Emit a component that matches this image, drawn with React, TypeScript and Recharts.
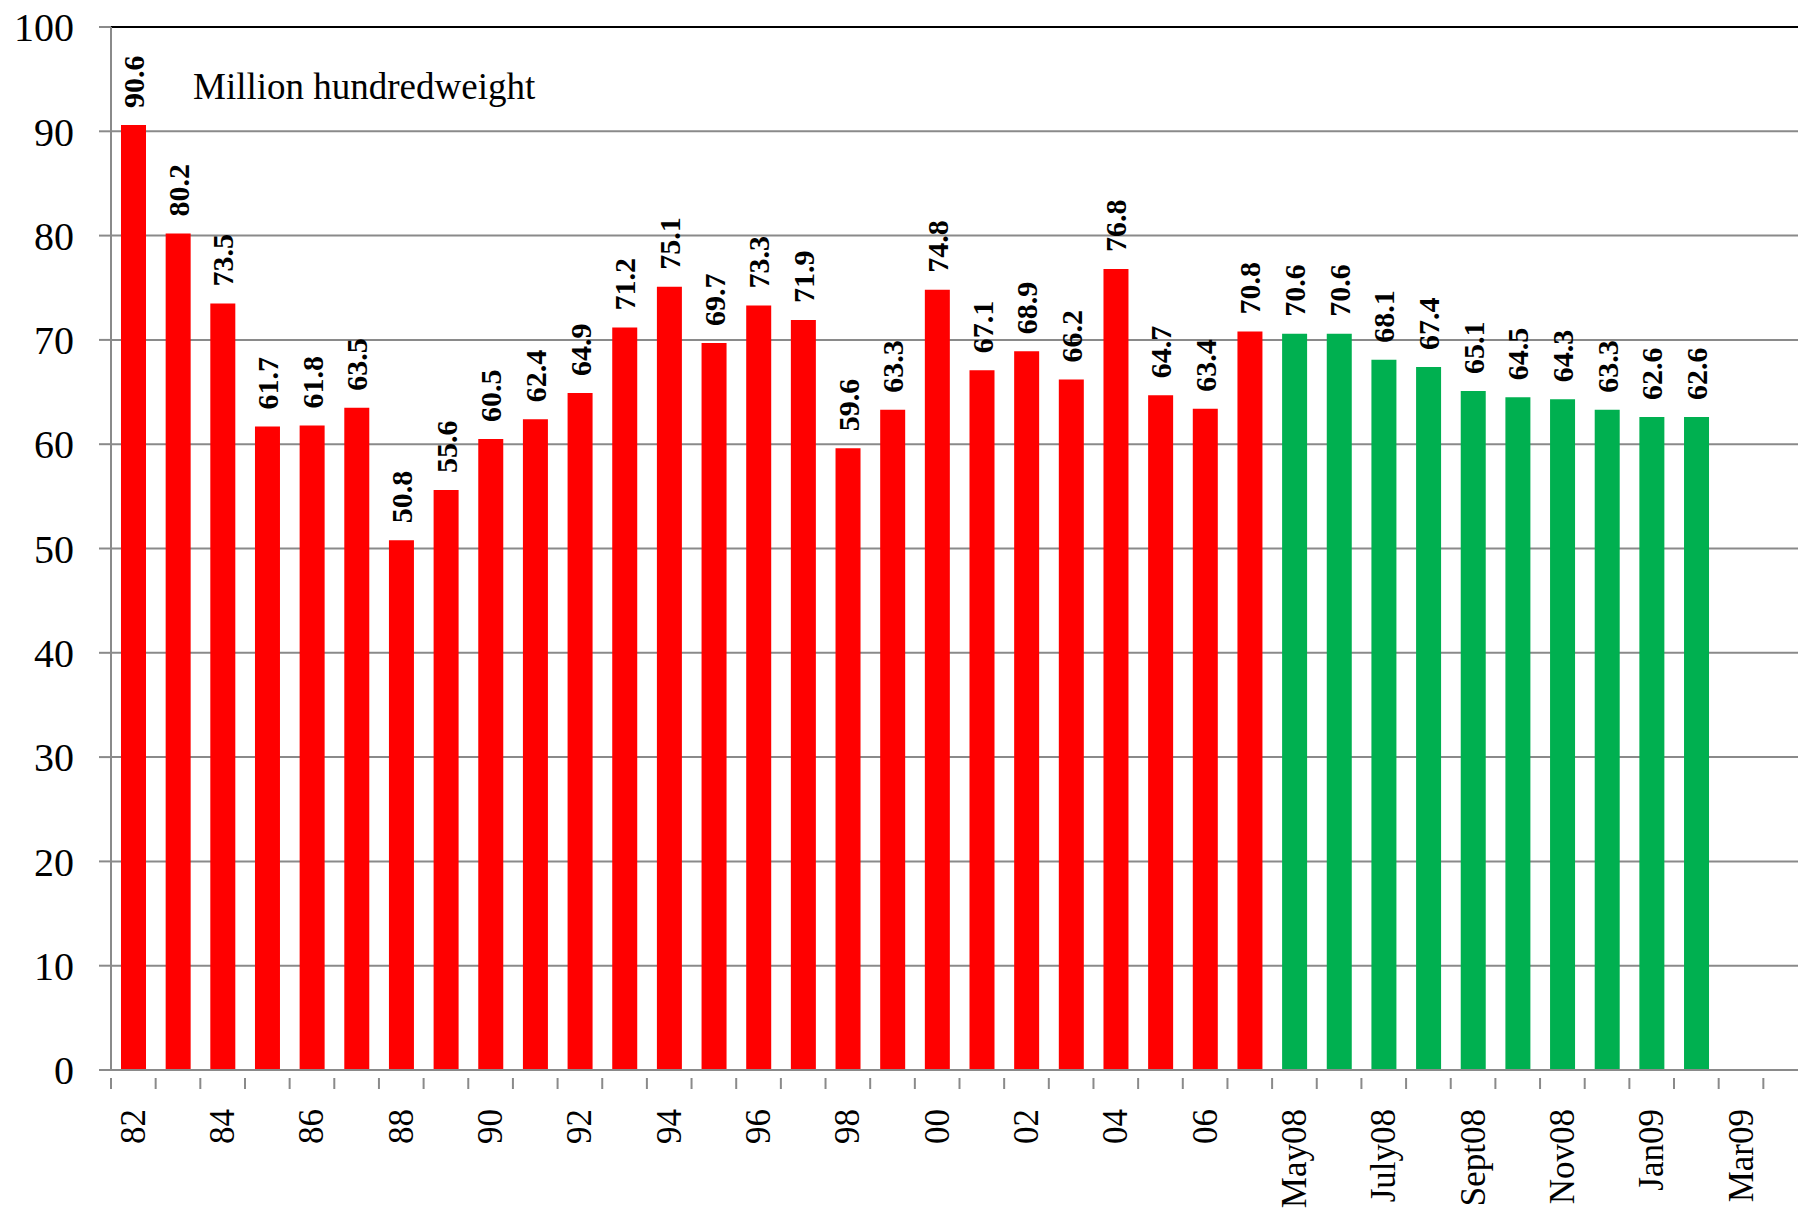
import React from 'react'
import {
  BarChart,
  Bar,
  Cell,
  XAxis,
  YAxis,
  CartesianGrid,
  ReferenceLine,
  LabelList,
} from 'recharts'

const annualLabels = ['82', '83', '84', '85', '86', '87', '88', '89', '90', '91', '92', '93', '94', '95', '96', '97', '98', '99', '00', '01', '02', '03', '04', '05', '06', '07']
const annualValues = [90.6, 80.2, 73.5, 61.7, 61.8, 63.5, 50.8, 55.6, 60.5, 62.4, 64.9, 71.2, 75.1, 69.7, 73.3, 71.9, 59.6, 63.3, 74.8, 67.1, 68.9, 66.2, 76.8, 64.7, 63.4, 70.8]

const monthLabels = ['May08', 'June08', 'July08', 'Aug08', 'Sept08', 'Oct08', 'Nov08', 'Dec08', 'Jan09', 'Feb09', 'Mar09', 'Apr09']
const monthValues = [70.6, 70.6, 68.1, 67.4, 65.1, 64.5, 64.3, 63.3, 62.6, 62.6, null, null]

const yTicks = [0, 10, 20, 30, 40, 50, 60, 70, 80, 90, 100]

const RED = '#FF0000'
const GREEN = '#00B050'
const GRID = '#8a8a8a'
const FONT = '"Liberation Serif", "Times New Roman", serif'

const data = [
  ...annualLabels.map((name, i) => ({ name, value: annualValues[i] })),
  ...monthLabels.map((name, i) => ({ name, value: monthValues[i] })),
]

const BASE_Y = 1070

function XTick(props: any) {
  const { x, y, payload, index } = props
  const half = payload?.offset ?? 22.33
  const left = x - half
  const show = index % 2 === 0
  return (
    <g>
      <line x1={left} x2={left} y1={y} y2={y + 11} stroke={GRID} strokeWidth={2} />
      {show && (
        <text
          transform={`translate(${x},${y + 31}) rotate(-90)`}
          textAnchor="end"
          dominantBaseline="central"
          fontFamily={FONT}
          fontSize={35}
          fill="#000"
        >
          {payload.value}
        </text>
      )}
    </g>
  )
}

function ValueLabel(props: any) {
  const { x, y, width, value } = props
  if (value == null) return null
  const cx = x + width / 2
  return (
    <text
      transform={`translate(${cx},${y - 17}) rotate(-90)`}
      textAnchor="start"
      dominantBaseline="central"
      fontFamily={FONT}
      fontWeight="bold"
      fontSize={30}
      fill="#000"
    >
      {value.toFixed(1)}
    </text>
  )
}

export default function App() {
  return (
    <div
      style={{
        position: 'absolute',
        left: 0,
        top: 0,
        width: 1798,
        height: 1211,
        overflow: 'hidden',
        background: '#fff',
      }}
    >
      <BarChart
        width={1830}
        height={1211}
        data={data}
        margin={{ top: 27, right: 22, bottom: 0, left: 0 }}
        barSize={25}
      >
        <CartesianGrid vertical={false} stroke={GRID} strokeWidth={2} />
        <XAxis
          dataKey="name"
          interval={0}
          height={1211 - BASE_Y}
          tickLine={false}
          axisLine={{ stroke: GRID, strokeWidth: 2 }}
          tick={<XTick />}
        />
        <YAxis
          width={111}
          domain={[0, 100]}
          ticks={yTicks}
          interval={0}
          tickSize={12}
          tickMargin={25}
          tickLine={{ stroke: GRID, strokeWidth: 2 }}
          axisLine={{ stroke: GRID, strokeWidth: 2 }}
          tick={{ fontFamily: FONT, fontSize: 40, fill: '#000' }}
        />
        <ReferenceLine y={100} stroke="#000" strokeWidth={2} />
        <Bar dataKey="value" isAnimationActive={false}>
          {data.map((_d, i) => (
            <Cell key={`c-${i}`} fill={i < annualLabels.length ? RED : GREEN} />
          ))}
          <LabelList dataKey="value" content={<ValueLabel />} />
        </Bar>
      </BarChart>
      <div
        style={{
          position: 'absolute',
          left: 193,
          top: 68,
          fontFamily: FONT,
          fontSize: 37,
          lineHeight: '37px',
          color: '#000',
          whiteSpace: 'nowrap',
        }}
      >
        Million hundredweight
      </div>
    </div>
  )
}
